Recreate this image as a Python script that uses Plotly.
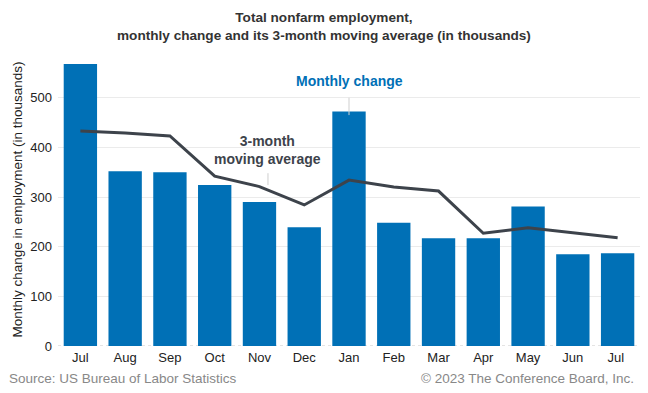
import plotly.graph_objects as go

months = ["Jul", "Aug", "Sep", "Oct", "Nov", "Dec", "Jan", "Feb", "Mar", "Apr", "May", "Jun", "Jul "]
monthly_change = [568, 352, 350, 324, 290, 239, 472, 248, 217, 217, 281, 185, 187]
moving_avg = [433, 429, 423, 342, 321, 284, 334, 320, 312, 227, 238, 228, 218]
y_ticks = [0, 100, 200, 300, 400, 500]

BLUE = "#0070B6"
DARK = "#3D434B"
FONT = "Liberation Sans, Arial, sans-serif"

fig = go.Figure()
fig.add_trace(go.Bar(x=months, y=monthly_change, marker=dict(color=BLUE, line=dict(width=0)),
                     name="Monthly change", showlegend=False))
fig.add_trace(go.Scatter(x=months, y=moving_avg, mode="lines", line=dict(color=DARK, width=3),
                         name="3-month moving average", showlegend=False))

# dotted baseline
fig.add_shape(type="line", xref="paper", yref="y", x0=0, x1=1, y0=0, y1=0, layer="below",
              line=dict(color="#c8c8c8", width=1, dash="dot"))
# callout lines
fig.add_shape(type="line", xref="x", yref="y", x0=6, x1=6, y0=465, y1=500,
              line=dict(color="#cfcfcf", width=1))
fig.add_shape(type="line", xref="x", yref="y", x0=4.19, x1=4.19, y0=324, y1=348,
              line=dict(color="#cfcfcf", width=1))

fig.add_annotation(x=6, y=533, xref="x", yref="y", text="<b>Monthly change</b>",
                   showarrow=False, yanchor="middle", xanchor="center",
                   font=dict(family=FONT, size=14, color=BLUE))
fig.add_annotation(x=4.19, y=394, xref="x", yref="y", text="<b>3-month<br>moving average</b>",
                   showarrow=False, yanchor="middle", xanchor="center", align="center",
                   font=dict(family=FONT, size=14, color=DARK))

fig.add_annotation(x=0.5, y=1.0, xref="paper", yref="paper", yshift=8, xshift=-25,
                   text="<b>Total nonfarm employment,<br>monthly change and its 3-month moving average (in thousands)</b>",
                   showarrow=False, xanchor="center", yanchor="bottom",
                   font=dict(family=FONT, size=13.6, color="#333333"))
fig.add_annotation(x=0, y=0, xref="paper", yref="paper", xshift=-51, yshift=-32,
                   text="Source: US Bureau of Labor Statistics", showarrow=False,
                   xanchor="left", yanchor="middle", font=dict(family=FONT, size=13.5, color="#888888"))
fig.add_annotation(x=1, y=0, xref="paper", yref="paper", xshift=-4, yshift=-32,
                   text="© 2023 The Conference Board, Inc.", showarrow=False,
                   xanchor="right", yanchor="middle", font=dict(family=FONT, size=13.5, color="#888888"))

fig.update_layout(
    width=640, height=385,
    margin=dict(l=50, r=8, t=45, b=47),
    paper_bgcolor="white", plot_bgcolor="white",
    bargap=0.255,
    font=dict(family=FONT, size=13, color="#333333"),
    xaxis=dict(showgrid=False, ticks="", showline=False, ticklabelstandoff=2,
               tickfont=dict(size=13, color="#222222")),
    yaxis=dict(range=[0, 590], tickvals=y_ticks, showgrid=True, gridcolor="#ebebeb", gridwidth=1,
               zeroline=False,
               tickfont=dict(size=13, color="#222222"), ticklabelstandoff=5,
               title=dict(text="Monthly change in employment (in thousands)",
                          font=dict(size=13.5, color="#222222"), standoff=4)),
)

fig.write_html("out.html")
